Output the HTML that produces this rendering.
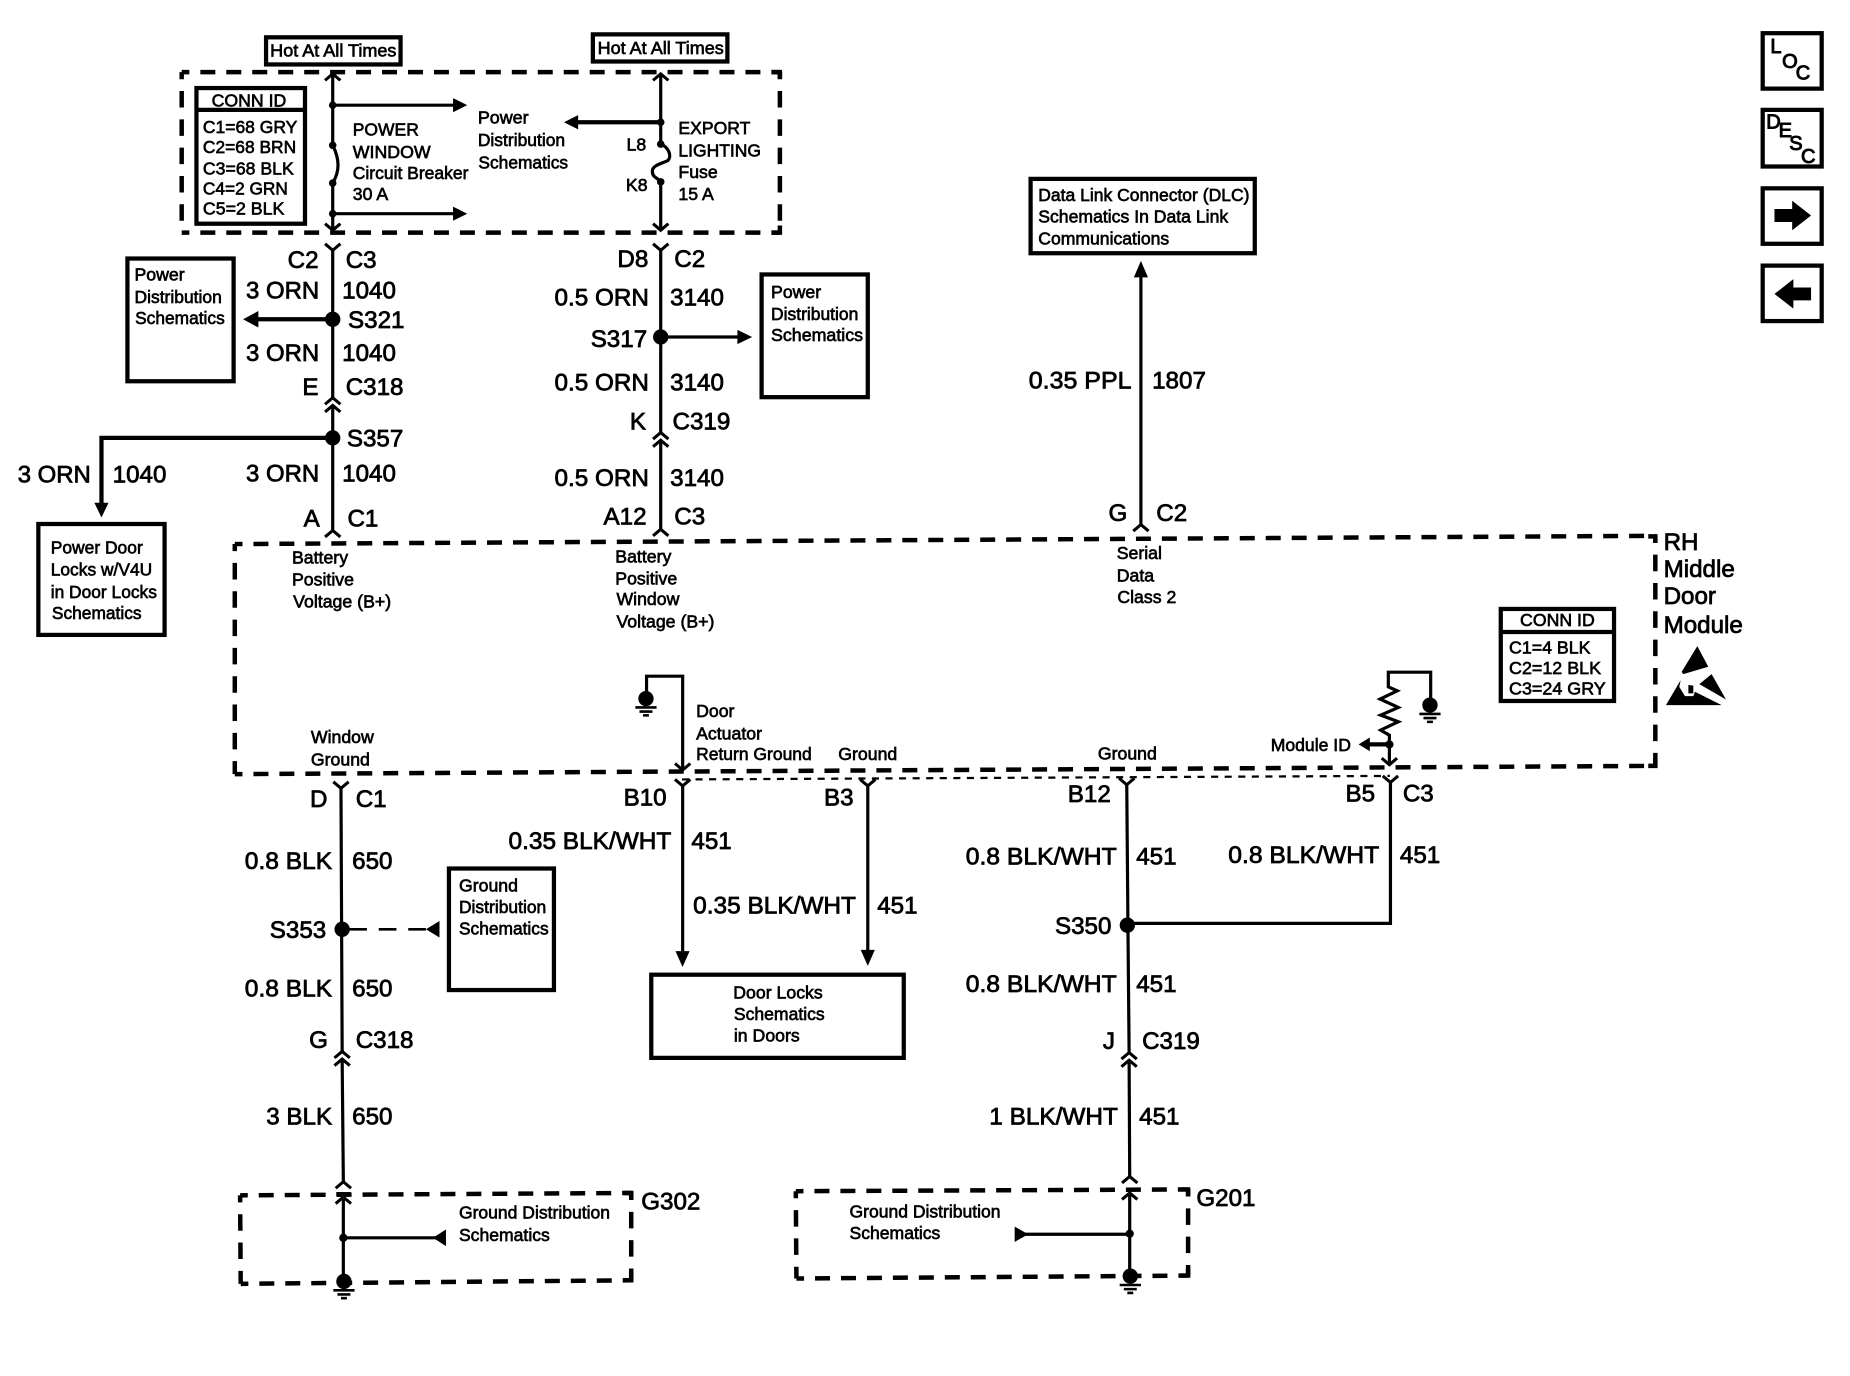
<!DOCTYPE html>
<html><head><meta charset="utf-8"><title>RH Middle Door Module</title>
<style>
html,body{margin:0;padding:0;background:#fff}
svg{display:block}
text{font-family:"Liberation Sans",sans-serif;fill:#000;stroke:#000;stroke-width:.55}
.l{font-size:20.5px;transform:translateY(-1px);stroke-width:.65}
.s{font-size:15px;transform:translateY(-.4px)}
.i{font-size:17px;stroke-width:.8}
.e{text-anchor:end}.c{text-anchor:middle}
.w{fill:none;stroke:#000;stroke-width:2.7}
.t{fill:none;stroke:#000;stroke-width:3.6}
.b{fill:#fff;stroke:#000;stroke-width:3.6}
.d{fill:none;stroke:#000;stroke-width:3.8;stroke-dasharray:12.7 9.3;stroke-dashoffset:6.2}
.f{fill:none;stroke:#000;stroke-width:3.8;stroke-dasharray:14 10;stroke-dashoffset:8}
.k{fill:none;stroke:#000;stroke-width:3.8}
</style></head><body>
<svg xmlns="http://www.w3.org/2000/svg" width="1850" height="1376" viewBox="0 0 1568 1166">
<defs>
<path id="u" d="M-6.5 5.500L0 0L6.5 5.500" fill="none" stroke="#000" stroke-width="2.6"/>
<path id="v" d="M-6.5 -5.500L0 0L6.5 -5.500" fill="none" stroke="#000" stroke-width="2.6"/>
<g id="g"><circle r="6.5" fill="#000"/><path d="M-9 7.500H9M-5.500 11H5.500M-2.500 14.200H2.500" stroke="#000" stroke-width="2.2" fill="none"/></g>
</defs>
<rect width="1568" height="1166" fill="#fff"/>

<!-- dashed boxes -->
<path class="d" d="M154 61H661"/><path class="f" d="M154 61V197"/><path class="d" d="M154 197H661"/><path class="f" d="M661 61V197"/>
<path class="k" d="M654 61H661V66M661 191V197H654"/>
<path class="d" d="M199 461L1403 454"/><path class="d" d="M199 656L1403 649"/><path class="f" d="M199 461V656"/><path class="f" d="M1403 454V649"/>
<path class="k" d="M1397 454.500H1403V460M1403 643V649H1397"/>
<path class="d" d="M203.500 1013L535 1011"/><path class="d" d="M204 1088L535 1085"/><path class="f" d="M203.500 1013L204 1088"/><path class="f" d="M535 1011V1085"/>
<path class="k" d="M529 1011H535V1017M535 1079V1085H529"/>
<path class="d" d="M674.500 1009.500L1007 1008"/><path class="d" d="M675 1083.500L1007 1081"/><path class="f" d="M674.500 1009.500L675 1083.500"/><path class="f" d="M1007 1008V1081"/>
<path class="k" d="M1001 1008H1007V1014M1007 1075V1081H1001"/>
<path d="M578 660.500L1178 657.500" fill="none" stroke="#000" stroke-width="1.9" stroke-dasharray="6 5.500"/>

<!-- hot at all times -->
<rect class="b" x="225.500" y="31.500" width="114" height="23" stroke-width="3"/>
<text class="s" x="229" y="48" textLength="107" lengthAdjust="spacingAndGlyphs">Hot At All Times</text>
<rect class="b" x="502.500" y="29" width="114" height="23" stroke-width="3"/>
<text class="s" x="506.500" y="46" textLength="107" lengthAdjust="spacingAndGlyphs">Hot At All Times</text>

<!-- conn id 1 -->
<rect class="b" x="166.500" y="74.500" width="92" height="115"/>
<path class="t" d="M166.500 93H258.500" stroke-width="2.500"/>
<text class="s c" x="211" y="90.500">CONN ID</text>
<text class="s" x="172" y="113" textLength="80" lengthAdjust="spacingAndGlyphs">C1=68 GRY</text>
<text class="s" x="172" y="130" textLength="79" lengthAdjust="spacingAndGlyphs">C2=68 BRN</text>
<text class="s" x="172" y="148" textLength="77" lengthAdjust="spacingAndGlyphs">C3=68 BLK</text>
<text class="s" x="172" y="165" textLength="72" lengthAdjust="spacingAndGlyphs">C4=2 GRN</text>
<text class="s" x="172" y="182" textLength="69" lengthAdjust="spacingAndGlyphs">C5=2 BLK</text>

<!-- breaker wire -->
<path class="w" d="M282 62.500V123C288 135 288 145 282 155V195M282 89H390M282 181H390"/>
<use href="#u" x="282" y="62.500"/><use href="#v" x="282" y="195"/>
<circle cx="282" cy="89" r="3.200"/><circle cx="282" cy="123" r="3.200"/><circle cx="282" cy="155" r="3.200"/><circle cx="282" cy="181" r="3.200"/>
<path d="M396 89L384 83V95ZM396 181L384 175V187Z"/>
<text class="s" x="299" y="115" textLength="56" lengthAdjust="spacingAndGlyphs">POWER</text>
<text class="s" x="299" y="134" textLength="66" lengthAdjust="spacingAndGlyphs">WINDOW</text>
<text class="s" x="299" y="152" textLength="98" lengthAdjust="spacingAndGlyphs">Circuit Breaker</text>
<text class="s" x="299" y="170">30 A</text>
<text class="s" x="405" y="105" textLength="43" lengthAdjust="spacingAndGlyphs">Power</text>
<text class="s" x="405" y="124" textLength="74" lengthAdjust="spacingAndGlyphs">Distribution</text>
<text class="s" x="405.500" y="143" textLength="76" lengthAdjust="spacingAndGlyphs">Schematics</text>

<!-- fuse wire -->
<path class="w" d="M560 62.500V122C566 124 570 132 566 136C560 139 552 140 553 146C553 150 558 151 560 154V195"/>
<path class="t" d="M560 103.500H486"/>
<path d="M478 103.500L490 97.500V109.500Z"/>
<use href="#u" x="560" y="62.500"/><use href="#v" x="560" y="195"/>
<circle cx="560" cy="103.500" r="3.200"/><circle cx="560" cy="122" r="3.200"/><circle cx="560" cy="154" r="3.200"/>
<text class="s" x="531" y="128">L8</text>
<text class="s" x="530.500" y="162">K8</text>
<text class="s" x="575" y="114" textLength="61" lengthAdjust="spacingAndGlyphs">EXPORT</text>
<text class="s" x="575" y="133" textLength="70" lengthAdjust="spacingAndGlyphs">LIGHTING</text>
<text class="s" x="575" y="151">Fuse</text>
<text class="s" x="575" y="170">15 A</text>

<!-- wire 1 lower -->
<use href="#v" x="282" y="212"/>
<path class="w" d="M282 212V337M282 343.500V449"/>
<use href="#u" x="282" y="337"/><use href="#u" x="282" y="343.500"/><use href="#u" x="282" y="449.500"/>
<text class="l e" x="270" y="228">C2</text><text class="l" x="293" y="228">C3</text>
<text class="l e" x="270.500" y="254" textLength="62" lengthAdjust="spacingAndGlyphs">3 ORN</text><text class="l" x="290" y="254">1040</text>
<circle cx="282" cy="270.500" r="6.500"/>
<path class="t" d="M282 270.500H214"/><path d="M206 270.500L219 263.500V277.500Z"/>
<text class="l" x="295" y="279">S321</text>
<text class="l e" x="270.500" y="307" textLength="62" lengthAdjust="spacingAndGlyphs">3 ORN</text><text class="l" x="290" y="307">1040</text>
<text class="l e" x="270" y="335.500">E</text><text class="l" x="293" y="335.500">C318</text>
<circle cx="282" cy="371" r="6.500"/>
<path class="t" d="M282 371H86V428"/><path d="M86 438.500L80 426H92Z"/>
<text class="l" x="294" y="379.500">S357</text>
<text class="l" x="15" y="410" textLength="62" lengthAdjust="spacingAndGlyphs">3 ORN</text><text class="l" x="95.500" y="410">1040</text>
<text class="l e" x="270.500" y="409" textLength="62" lengthAdjust="spacingAndGlyphs">3 ORN</text><text class="l" x="290" y="409">1040</text>
<text class="l e" x="271" y="447">A</text><text class="l" x="294.500" y="447">C1</text>

<rect class="b" x="108" y="219" width="90" height="104"/>
<text class="s" x="114" y="238">Power</text>
<text class="s" x="114" y="257" textLength="74" lengthAdjust="spacingAndGlyphs">Distribution</text>
<text class="s" x="114.500" y="275" textLength="76" lengthAdjust="spacingAndGlyphs">Schematics</text>

<rect class="b" x="32.500" y="444" width="107" height="94"/>
<text class="s" x="43" y="469.500" textLength="78" lengthAdjust="spacingAndGlyphs">Power Door</text>
<text class="s" x="43" y="488" textLength="86" lengthAdjust="spacingAndGlyphs">Locks w/V4U</text>
<text class="s" x="43" y="507" textLength="90" lengthAdjust="spacingAndGlyphs">in Door Locks</text>
<text class="s" x="44" y="525" textLength="76" lengthAdjust="spacingAndGlyphs">Schematics</text>

<!-- wire 2 lower -->
<use href="#v" x="560" y="212"/>
<path class="w" d="M560 212V366.500M560 373V448"/>
<use href="#u" x="560" y="366.500"/><use href="#u" x="560" y="373"/><use href="#u" x="560" y="448.500"/>
<text class="l e" x="549.500" y="227">D8</text><text class="l" x="571.500" y="227">C2</text>
<text class="l e" x="550" y="260" textLength="80" lengthAdjust="spacingAndGlyphs">0.5 ORN</text><text class="l" x="568" y="260">3140</text>
<circle cx="560" cy="285.500" r="6.500"/>
<path class="w" d="M560 285.500H626" stroke-width="3"/><path d="M637.500 285.500L625 279.500V291.500Z"/>
<text class="l e" x="548.500" y="295">S317</text>
<text class="l e" x="550" y="332" textLength="80" lengthAdjust="spacingAndGlyphs">0.5 ORN</text><text class="l" x="568" y="332">3140</text>
<text class="l e" x="547.500" y="365">K</text><text class="l" x="570" y="365">C319</text>
<text class="l e" x="550" y="413" textLength="80" lengthAdjust="spacingAndGlyphs">0.5 ORN</text><text class="l" x="568" y="413">3140</text>
<text class="l e" x="548" y="445.500">A12</text><text class="l" x="571.500" y="445.500">C3</text>

<rect class="b" x="645.500" y="232.500" width="90" height="104"/>
<text class="s" x="653.500" y="253">Power</text>
<text class="s" x="653.500" y="271.500" textLength="74" lengthAdjust="spacingAndGlyphs">Distribution</text>
<text class="s" x="653.500" y="289.500" textLength="78" lengthAdjust="spacingAndGlyphs">Schematics</text>

<!-- module labels -->
<text class="s" x="247.500" y="478">Battery</text>
<text class="s" x="247.500" y="496.500">Positive</text>
<text class="s" x="248.500" y="515" textLength="83" lengthAdjust="spacingAndGlyphs">Voltage (B+)</text>
<text class="s" x="521.500" y="477">Battery</text>
<text class="s" x="521.500" y="495.500">Positive</text>
<text class="s" x="522.500" y="513">Window</text>
<text class="s" x="522.500" y="532" textLength="83" lengthAdjust="spacingAndGlyphs">Voltage (B+)</text>
<text class="s" x="946.500" y="474">Serial</text>
<text class="s" x="946.500" y="493">Data</text>
<text class="s" x="947" y="511.500">Class 2</text>

<!-- DLC -->
<rect class="b" x="873.500" y="151.500" width="190" height="63"/>
<text class="s" x="880" y="170.500" textLength="179" lengthAdjust="spacingAndGlyphs">Data Link Connector (DLC)</text>
<text class="s" x="880" y="189" textLength="161" lengthAdjust="spacingAndGlyphs">Schematics In Data Link</text>
<text class="s" x="880" y="207.500" textLength="111" lengthAdjust="spacingAndGlyphs">Communications</text>
<path class="w" d="M967 232V444" stroke-width="2.800"/>
<path d="M967 221L961 235H973Z"/>
<use href="#u" x="967" y="444.500"/>
<text class="l e" x="959" y="330" textLength="87" lengthAdjust="spacingAndGlyphs">0.35 PPL</text><text class="l" x="976.500" y="330">1807</text>
<text class="l e" x="955.500" y="442.500">G</text><text class="l" x="980" y="442.500">C2</text>

<!-- side buttons -->
<rect class="t" x="1494" y="28" width="50" height="47"/>
<text class="i" x="1500.500" y="44.700">L</text><text class="i" x="1510.500" y="57.700">O</text><text class="i" x="1522" y="67.200">C</text>
<rect class="t" x="1494" y="93" width="50" height="48"/>
<text class="i" x="1497" y="108.700">D</text><text class="i" x="1507.500" y="116">E</text><text class="i" x="1516.500" y="127">S</text><text class="i" x="1526.500" y="138">C</text>
<rect class="t" x="1494" y="159.500" width="50" height="47"/>
<path d="M1504 177H1519V170L1535 182.500L1519 195V188H1504Z"/>
<rect class="t" x="1494" y="225" width="50" height="47"/>
<path d="M1535 243.500H1520V236.500L1504 249L1520 261.500V254.500H1535Z"/>

<!-- RH label -->
<text class="l" x="1410" y="467">RH</text>
<text class="l" x="1410" y="490">Middle</text>
<text class="l" x="1410" y="513">Door</text>
<text class="l" x="1410" y="537.500">Module</text>

<!-- conn id 2 -->
<rect class="b" x="1272" y="516" width="96" height="78"/>
<path class="t" d="M1272 535.500H1368" stroke-width="2.200"/>
<text class="s c" x="1320" y="531">CONN ID</text>
<text class="s" x="1279" y="554" textLength="69" lengthAdjust="spacingAndGlyphs">C1=4 BLK</text>
<text class="s" x="1279" y="571.500" textLength="78" lengthAdjust="spacingAndGlyphs">C2=12 BLK</text>
<text class="s" x="1279" y="589" textLength="82" lengthAdjust="spacingAndGlyphs">C3=24 GRY</text>

<!-- ESD -->
<path d="M1438.600 547.500L1447.900 565L1426.700 571.200L1425.300 569.300Z"/>
<path d="M1450.700 571.200L1462.900 592.700L1440.300 579.700Z"/>
<path d="M1424.500 576.300L1412 597.500H1459.200L1436.600 586.200L1435.200 589.900H1428.100L1423.300 582Z"/>
<path d="M1431 580.500L1435.200 581V587.600H1431Z"/>

<!-- inner ground left -->
<path class="w" d="M548 590V573H578.600V652"/>
<use href="#g" x="547.500" y="592"/>
<use href="#v" x="578.600" y="652.500"/>
<text class="s" x="590" y="608">Door</text>
<text class="s" x="590" y="627">Actuator</text>
<text class="s" x="590" y="644.500" textLength="98" lengthAdjust="spacingAndGlyphs">Return Ground</text>
<text class="s" x="710.500" y="644.500">Ground</text>
<text class="s" x="263.500" y="630">Window</text>
<text class="s" x="263.500" y="649">Ground</text>
<text class="s" x="930.500" y="644">Ground</text>

<!-- module id resistor -->
<path class="w" d="M1212.600 592V569.600H1176.700V582L1184.300 585.400L1169.700 592.400L1185.200 599.500L1170.200 606L1185.200 611.600L1170.200 618.700L1177.600 623V647.500" stroke-width="2.800"/>
<use href="#g" x="1212" y="597.500"/>
<circle cx="1177.600" cy="630.800" r="3.500"/>
<path class="t" d="M1177.600 630.800H1158"/><path d="M1151.500 630.800L1161 625V636.500Z"/>
<use href="#v" x="1177.600" y="648"/>
<text class="s" x="1077" y="637" textLength="68" lengthAdjust="spacingAndGlyphs">Module ID</text>

<!-- D C1 wire -->
<use href="#v" x="289" y="668"/>
<path class="w" d="M289 668L290 891M290 897.500L291 1001"/>
<use href="#u" x="290" y="891"/><use href="#u" x="290" y="897.500"/><use href="#u" x="291" y="1001.500"/>
<text class="l e" x="277.500" y="685">D</text><text class="l" x="301.500" y="685">C1</text>
<text class="l e" x="281.500" y="737.500" textLength="74" lengthAdjust="spacingAndGlyphs">0.8 BLK</text><text class="l" x="298.500" y="737.500">650</text>
<circle cx="290" cy="787.500" r="6.500"/>
<path d="M296 787.500H361" stroke="#000" stroke-width="2.200" stroke-dasharray="15 10" fill="none"/>
<path d="M361 787.500L372.500 780.500V794.500Z"/>
<text class="l e" x="276.500" y="796">S353</text>
<text class="l e" x="281.500" y="845.500" textLength="74" lengthAdjust="spacingAndGlyphs">0.8 BLK</text><text class="l" x="298.500" y="845.500">650</text>
<text class="l e" x="278" y="889">G</text><text class="l" x="301.500" y="889">C318</text>
<text class="l e" x="281.500" y="954">3 BLK</text><text class="l" x="298.500" y="954">650</text>

<rect class="b" x="380.500" y="736" width="89" height="103"/>
<text class="s" x="389" y="756">Ground</text>
<text class="s" x="389" y="774" textLength="74" lengthAdjust="spacingAndGlyphs">Distribution</text>
<text class="s" x="389" y="792.500" textLength="76" lengthAdjust="spacingAndGlyphs">Schematics</text>

<!-- G302 -->
<use href="#u" x="291" y="1014.500"/>
<path class="w" d="M291 1014.500V1086" stroke-width="3.200"/>
<path class="w" d="M291 1049H372" stroke-width="2.800"/>
<circle cx="291" cy="1049" r="3.500"/>
<path d="M367 1049L378 1042V1056Z"/>
<path class="t" d="M285 1012H297" stroke-width="2.400"/>
<use href="#g" x="291.500" y="1086"/>
<text class="l" x="543.500" y="1026">G302</text>
<text class="s" x="389" y="1033" textLength="128" lengthAdjust="spacingAndGlyphs">Ground Distribution</text>
<text class="s" x="389" y="1052" textLength="77" lengthAdjust="spacingAndGlyphs">Schematics</text>

<!-- B10 / B3 -->
<use href="#v" x="578.600" y="666"/>
<path class="w" d="M578.600 666V808"/>
<path d="M578.500 819.500L572.500 806H584.500Z"/>
<use href="#v" x="735.500" y="666"/>
<path class="w" d="M735.500 666V808"/>
<path d="M735.500 818.500L729.500 805H741.500Z"/>
<text class="l e" x="565" y="683.500">B10</text>
<text class="l e" x="723.500" y="683.500">B3</text>
<text class="l e" x="569" y="720.500" textLength="138" lengthAdjust="spacingAndGlyphs">0.35 BLK/WHT</text><text class="l" x="586" y="720.500">451</text>
<text class="l" x="587.500" y="775" textLength="138" lengthAdjust="spacingAndGlyphs">0.35 BLK/WHT</text><text class="l" x="743.500" y="775">451</text>

<rect class="b" x="552" y="826" width="214" height="70.500"/>
<text class="s" x="621.500" y="846.500">Door Locks</text>
<text class="s" x="622" y="865" textLength="77" lengthAdjust="spacingAndGlyphs">Schematics</text>
<text class="s" x="622" y="883">in Doors</text>

<!-- B12 / B5 -->
<use href="#v" x="955" y="665"/>
<use href="#v" x="1178.500" y="663"/>
<path class="w" d="M1178.500 663V782.500H955.500"/>
<path class="w" d="M955 665L956 784M956 784L957 892M957 898.500L957.500 997"/>
<circle cx="955.500" cy="784" r="6.500"/>
<use href="#u" x="957" y="892"/><use href="#u" x="957" y="898.500"/><use href="#u" x="957.500" y="997"/>
<text class="l e" x="941.500" y="680.500">B12</text>
<text class="l e" x="1165.500" y="680">B5</text><text class="l" x="1189" y="680">C3</text>
<text class="l e" x="946.500" y="733.500" textLength="128" lengthAdjust="spacingAndGlyphs">0.8 BLK/WHT</text><text class="l" x="963" y="733.500">451</text>
<text class="l e" x="1169" y="732.500" textLength="128" lengthAdjust="spacingAndGlyphs">0.8 BLK/WHT</text><text class="l" x="1186.500" y="732.500">451</text>
<text class="l e" x="942" y="792.500">S350</text>
<text class="l e" x="946.500" y="841.500" textLength="128" lengthAdjust="spacingAndGlyphs">0.8 BLK/WHT</text><text class="l" x="963" y="841.500">451</text>
<text class="l e" x="945" y="890">J</text><text class="l" x="968" y="890">C319</text>
<text class="l e" x="947.500" y="954" textLength="109" lengthAdjust="spacingAndGlyphs">1 BLK/WHT</text><text class="l" x="965.500" y="954">451</text>

<!-- G201 -->
<use href="#u" x="957.500" y="1011"/>
<path class="w" d="M957.500 1011V1081"/>
<path class="w" d="M864 1046H957.500"/>
<path d="M871.500 1046L860 1039.500V1052.500Z"/>
<circle cx="957.500" cy="1045.500" r="3.500"/>
<use href="#g" x="958" y="1081.500"/>
<text class="l" x="1014" y="1023">G201</text>
<text class="s" x="720" y="1032" textLength="128" lengthAdjust="spacingAndGlyphs">Ground Distribution</text>
<text class="s" x="720" y="1050.500" textLength="77" lengthAdjust="spacingAndGlyphs">Schematics</text>
</svg>
</body></html>
